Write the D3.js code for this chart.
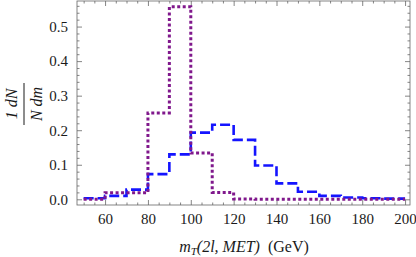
<!DOCTYPE html>
<html><head><meta charset="utf-8">
<script src="https://cdn.jsdelivr.net/npm/d3@7"></script>
<style>
body{margin:0;background:#fff;}
svg{display:block;}
svg text{font-family:"Liberation Serif","DejaVu Serif",serif !important;}
</style></head>
<body>
<svg id="c" width="416" height="257"></svg>
<script>
// bin edges (GeV)
const binEdges = [50,60,70,80,90,100,110,120,130,140,150,160,170,180,190,200];
// blue dashed histogram
const blueValues = [0.003,0.010,0.028,0.073,0.130,0.193,0.216,0.172,0.098,0.046,0.022,0.010,0.005,0.003,0.002];
// purple dotted histogram
const purpleValues = [0.000,0.019,0.019,0.250,0.557,0.134,0.020,0.001,0.000,0.000,0.000,0.000,0.000,0.000,0.000];
const xTicks = [60,80,100,120,140,160,180,200];
const yTicks = [0.0,0.1,0.2,0.3,0.4,0.5];
const yTickLabels = ["0.0","0.1","0.2","0.3","0.4","0.5"];

const L=77,R=410,T=1,B=205;
const svg=d3.select("#c");
const x=d3.scaleLinear().domain([46.9,202.3]).range([L,R]);
const y=d3.scaleLinear().domain([-0.0165,0.5740]).range([B,T]);

const frameCol="#666";
const xMinor=d3.range(50,201,5).filter(v=>!xTicks.includes(v));
const yMinor=d3.range(0,0.5801,0.02).map(v=>+v.toFixed(2)).filter(v=>Math.abs(v*10-Math.round(v*10))>1e-6);

function styleAxis(g){
  g.attr("font-family","Liberation Serif").attr("font-size",15);
  g.select(".domain").remove();
  g.selectAll(".tick line").attr("stroke",frameCol).attr("stroke-width",0.8);
  g.selectAll(".tick text").attr("fill","#1a1a1a");
}
// bottom
svg.append("g").attr("transform",`translate(0,${B})`)
  .call(d3.axisBottom(x).tickValues(xTicks).tickSize(-5).tickPadding(8).tickFormat(d3.format("d"))).call(styleAxis);
svg.append("g").attr("transform",`translate(0,${B})`)
  .call(d3.axisBottom(x).tickValues(xMinor).tickSize(-2.5).tickFormat("")).call(styleAxis);
// top
svg.append("g").attr("transform",`translate(0,${T})`)
  .call(d3.axisTop(x).tickValues(xTicks).tickSize(-5).tickFormat("")).call(styleAxis);
svg.append("g").attr("transform",`translate(0,${T})`)
  .call(d3.axisTop(x).tickValues(xMinor).tickSize(-2.5).tickFormat("")).call(styleAxis);
// left
svg.append("g").attr("transform",`translate(${L},0)`)
  .call(d3.axisLeft(y).tickValues(yTicks).tickSize(-5).tickPadding(9).tickFormat((d,i)=>yTickLabels[i])).call(styleAxis);
svg.append("g").attr("transform",`translate(${L},0)`)
  .call(d3.axisLeft(y).tickValues(yMinor).tickSize(-2.5).tickFormat("")).call(styleAxis);
// right
svg.append("g").attr("transform",`translate(${R},0)`)
  .call(d3.axisRight(y).tickValues(yTicks).tickSize(-5).tickFormat("")).call(styleAxis);
svg.append("g").attr("transform",`translate(${R},0)`)
  .call(d3.axisRight(y).tickValues(yMinor).tickSize(-2.5).tickFormat("")).call(styleAxis);

// frame
svg.append("rect").attr("x",L).attr("y",T).attr("width",R-L).attr("height",B-T)
  .attr("fill","none").attr("stroke",frameCol).attr("stroke-width",0.8);

// histogram step lines
function stepPoints(vals){
  const pts=[];
  vals.forEach((v,i)=>{pts.push([binEdges[i],v]);pts.push([binEdges[i+1],v]);});
  return pts;
}
const line=d3.line().x(d=>x(d[0])).y(d=>y(d[1]));
svg.append("path").attr("d",line(stepPoints(blueValues)))
  .attr("fill","none").attr("stroke","#1414ff").attr("stroke-width",2.6)
  .attr("stroke-dasharray","10,4");
svg.append("path").attr("d",line(stepPoints(purpleValues)))
  .attr("fill","none").attr("stroke","#80188c").attr("stroke-width",3)
  .attr("stroke-dasharray","3,2.5");

// x label
const xl=svg.append("text").attr("x",244).attr("y",252).attr("text-anchor","middle")
  .attr("font-size",16).attr("fill","#1a1a1a");
xl.append("tspan").style("font-style","italic").text("m");
xl.append("tspan").style("font-style","italic").attr("font-size",11).attr("dy",3).text("T");
xl.append("tspan").style("font-style","italic").attr("dy",-3).text("(2l, MET)");
xl.append("tspan").text("\u00a0\u00a0(GeV)");

// y label (rotated fraction)
const yl=svg.append("g").attr("transform","translate(24,104) rotate(-90)");
yl.append("text").attr("x",0).attr("y",-7).attr("text-anchor","middle")
  .attr("font-size",16).style("font-style","italic").attr("fill","#1a1a1a").text("1\u00a0dN");
yl.append("line").attr("x1",-21).attr("x2",21).attr("y1",0).attr("y2",0)
  .attr("stroke","#1a1a1a").attr("stroke-width",1);
yl.append("text").attr("x",0).attr("y",18).attr("text-anchor","middle")
  .attr("font-size",16).style("font-style","italic").attr("fill","#1a1a1a").text("N\u00a0dm");
</script>
</body></html>
